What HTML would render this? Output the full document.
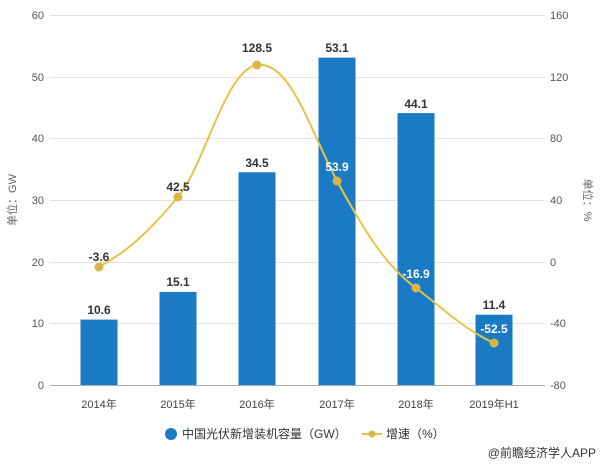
<!DOCTYPE html><html><head><meta charset="utf-8"><style>body{margin:0;background:#fff}svg{display:block}text{font-family:"Liberation Sans","Noto Sans CJK SC",sans-serif}</style></head><body>
<svg width="600" height="465" xmlns="http://www.w3.org/2000/svg">
<g stroke="#e3e3e3" stroke-width="1">
<line x1="50" x2="545" y1="15.5" y2="15.5"/><line x1="50" x2="545" y1="77.5" y2="77.5"/><line x1="50" x2="545" y1="138.5" y2="138.5"/><line x1="50" x2="545" y1="200.5" y2="200.5"/><line x1="50" x2="545" y1="262.5" y2="262.5"/><line x1="50" x2="545" y1="323.5" y2="323.5"/>
</g>
<line x1="50" x2="545" y1="385.5" y2="385.5" stroke="#aaa"/>
<g font-size="11" fill="#555" text-anchor="end">
<text x="44" y="19">60</text><text x="44" y="81">50</text><text x="44" y="142">40</text><text x="44" y="204">30</text><text x="44" y="266">20</text><text x="44" y="327">10</text><text x="44" y="389">0</text></g>
<g font-size="11" fill="#555" text-anchor="start">
<text x="550" y="19">160</text><text x="550" y="81">120</text><text x="550" y="142">80</text><text x="550" y="204">40</text><text x="550" y="266">0</text><text x="550" y="327">-40</text><text x="550" y="389">-80</text></g>
<text transform="translate(16,200) rotate(-90)" font-size="11" fill="#666" text-anchor="middle">单位：GW</text>
<text transform="translate(584,200) rotate(90)" font-size="11" fill="#666" text-anchor="middle">单位：%</text>
<g fill="#1a7ac4">
<rect x="80.5" y="319.6" width="37" height="65.4"/><rect x="159.5" y="291.9" width="37" height="93.1"/><rect x="238.5" y="172.3" width="37" height="212.7"/><rect x="318.5" y="57.6" width="37" height="327.4"/><rect x="397.5" y="113.1" width="37" height="271.9"/><rect x="475.5" y="314.7" width="37" height="70.3"/>
</g>
<g font-size="12" font-weight="bold" fill="#333" text-anchor="middle">
<text x="99" y="314">10.6</text><text x="178" y="286">15.1</text><text x="257" y="167">34.5</text><text x="337" y="52">53.1</text><text x="416" y="108">44.1</text><text x="494" y="309">11.4</text></g>
<path d="M99,267 C130,250 150,230 178,197 C205,165 225,70 257,65 C290,60 310,130 337,181 C365,232 385,265 416,288 C445,310 465,330 494,343" fill="none" stroke="#e6c44a" stroke-width="2"/>
<g fill="#d9b64a"><circle cx="99" cy="267" r="4.5"/><circle cx="178" cy="197" r="4.5"/><circle cx="257" cy="65" r="4.5"/><circle cx="337" cy="181" r="4.5"/><circle cx="416" cy="288" r="4.5"/><circle cx="494" cy="343" r="4.5"/></g>
<g font-size="12" font-weight="bold" fill="#333" text-anchor="middle">
<text x="99" y="261">-3.6</text><text x="178" y="191">42.5</text><text x="257" y="52">128.5</text><text x="337" y="171" fill="#fff">53.9</text><text x="416" y="278" fill="#fff">-16.9</text><text x="494" y="333" fill="#fff">-52.5</text></g>
<g font-size="11" fill="#444" text-anchor="middle">
<text x="99" y="408">2014年</text><text x="178" y="408">2015年</text><text x="257" y="408">2016年</text><text x="337" y="408">2017年</text><text x="416" y="408">2018年</text><text x="494" y="408">2019年H1</text></g>
<circle cx="171" cy="434" r="6" fill="#1a7ac4"/>
<text x="182" y="438" font-size="12" fill="#333">中国光伏新增装机容量（GW）</text>
<line x1="362" x2="382" y1="434" y2="434" stroke="#e6c44a" stroke-width="2"/><circle cx="372" cy="434" r="3.5" fill="#d9b64a"/>
<text x="386" y="438" font-size="12" fill="#333">增速（%）</text>
<text x="596" y="457" font-size="12" fill="#333" text-anchor="end">@前瞻经济学人APP</text>
</svg></body></html>
